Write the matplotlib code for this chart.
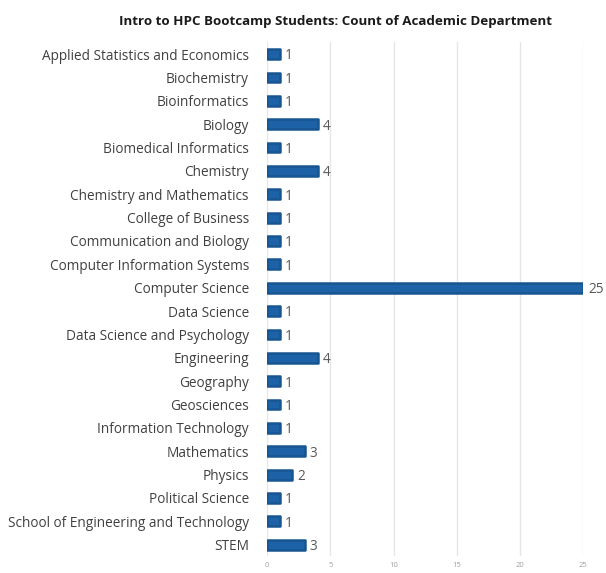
import matplotlib
matplotlib.use("Agg")
import matplotlib.pyplot as plt

departments = [
    "Applied Statistics and Economics",
    "Biochemistry",
    "Bioinformatics",
    "Biology",
    "Biomedical Informatics",
    "Chemistry",
    "Chemistry and Mathematics",
    "College of Business",
    "Communication and Biology",
    "Computer Information Systems",
    "Computer Science",
    "Data Science",
    "Data Science and Psychology",
    "Engineering",
    "Geography",
    "Geosciences",
    "Information Technology",
    "Mathematics",
    "Physics",
    "Political Science",
    "School of Engineering and Technology",
    "STEM",
]
counts = [1, 1, 1, 4, 1, 4, 1, 1, 1, 1, 25, 1, 1, 4, 1, 1, 1, 3, 2, 1, 1, 3]
x_ticks = [0, 5, 10, 15, 20, 25]

plt.rcParams["font.family"] = ["Open Sans", "DejaVu Sans"]

fig = plt.figure(figsize=(6.06, 5.73), dpi=100)
ax = fig.add_axes([0.4406, 0.029, 0.522, 0.897])

n = len(departments)
ypos = list(range(n))
bar_h = 0.42
face = "#1d62a6"
edge = "#185691"

bars = ax.barh(ypos, counts, height=bar_h, color=face, edgecolor=edge,
               linewidth=1.8, zorder=3)
for b in bars:
    b.set_joinstyle("round")

for y, v in zip(ypos, counts):
    ax.text(v + 0.38, y + 0.08, str(v), va="center", ha="left",
            fontsize=9.8, color="#595959", zorder=4)

ax.set_xlim(0, 25)
ax.set_ylim(n - 0.5, -0.5)
ax.set_yticks(ypos)
ax.set_yticklabels(departments, fontsize=9.8, color="#404040")
ax.set_xticks(x_ticks)
ax.set_xticklabels([str(t) for t in x_ticks], fontsize=5.5, color="#a0a0a0")
ax.tick_params(axis="y", length=0, pad=13)
ax.tick_params(axis="x", length=0, pad=4)
ax.grid(axis="x", color="#e6e6e6", linewidth=1.0, zorder=0)
for s in ax.spines.values():
    s.set_visible(False)

fig.text(0.5536, 0.962, "Intro to HPC Bootcamp Students: Count of Academic Department",
         ha="center", va="center", fontsize=9.65, fontweight="bold", color="#1a1a1a")

fig.savefig("out.png", dpi=100)
